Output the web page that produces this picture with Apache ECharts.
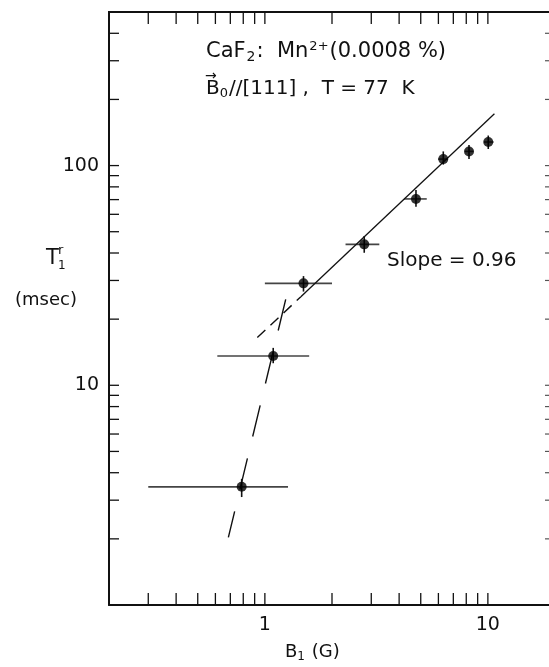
<!DOCTYPE html>
<html>
<head>
<meta charset="utf-8">
<script src="https://cdn.jsdelivr.net/npm/echarts@6/dist/echarts.min.js"></script>
<style>
html,body{margin:0;padding:0;background:#fff;overflow:hidden;}
#chart{width:549px;height:667px;}
</style>
</head>
<body>
<div id="chart"></div>
<script>
// ---- axis ranges and ticks ----
const X_MIN = 0.2, X_MAX = 20;
const Y_MIN = 1, Y_MAX = 500;
const xLabelValues = [1, 10];
const yLabelValues = [10, 100];
const xTickValues = [0.3, 0.4, 0.5, 0.6, 0.7, 0.8, 0.9, 1, 2, 3, 4, 5, 6, 7, 8, 9, 10];
const yTickValues = [2, 3, 4, 5, 6, 7, 8, 9, 10, 20, 30, 40, 50, 60, 70, 80, 90, 100, 200, 300, 400];

// ---- measured points: B1 (G) vs T1^r (msec) ----
const B1      = [0.787, 1.09, 1.49, 2.79, 4.76, 6.31, 8.23, 10.04];
const T1      = [3.45, 13.6, 29.1, 43.8, 70.5, 107, 116, 128];
const B1Low   = [0.30, 0.612, 1.0, 2.30, 4.21, 5.98, 7.89, 9.60];
const B1High  = [1.27, 1.58, 2.0, 3.26, 5.32, 6.63, 8.61, 10.6];
const T1Low   = [3.1, 12.6, 26.7, 40.1, 65.0, 101, 107, 119];
const T1High  = [3.75, 14.8, 31.4, 47.8, 77.4, 116, 124, 137];

// ---- drawn guide lines ----
const fitSolid    = [[1.45, 25.3], [10.7, 172]];
const fitDashed   = [[0.925, 16.5], [1.45, 25.3]];
const steepDashed = [[1.24, 24.6], [0.686, 2.03]];

const FONT = 'DejaVu Sans';
const INK = '#111';

function near(v, list) {
  return list.some(t => Math.abs(Math.log10(v) - Math.log10(t)) < 1e-6);
}

const pointData = B1.map((x, i) => [x, T1[i]]);
const errData = B1.map((x, i) => [x, T1[i], B1Low[i], B1High[i], T1Low[i], T1High[i]]);

const chart = echarts.init(document.getElementById('chart'), null, {renderer: 'canvas'});

const axisLineStyle = {show: true, onZero: false, lineStyle: {color: INK, width: 2}};

const option = {
  backgroundColor: '#fff',
  animation: false,
  grid: {left: 109, right: -6, top: 12, bottom: 62, containLabel: false, outerBoundsMode: 'none', show: false},
  xAxis: [
    {
      type: 'log', logBase: 10, min: X_MIN, max: X_MAX, position: 'bottom',
      axisLine: axisLineStyle, axisTick: {show: false}, splitLine: {show: false}, minorTick: {show: false},
      axisLabel: {
        show: true, margin: 11, color: INK, fontSize: 19, fontFamily: FONT,
        showMinLabel: true, showMaxLabel: true, hideOverlap: false,
        formatter: v => near(v, xLabelValues) ? String(Math.round(v)) : ''
      }
    }
  ],
  yAxis: [
    {
      type: 'log', logBase: 10, min: Y_MIN, max: Y_MAX, position: 'left',
      axisLine: axisLineStyle, axisTick: {show: false}, splitLine: {show: false}, minorTick: {show: false},
      axisLabel: {
        show: true, margin: 10, color: INK, fontSize: 19, fontFamily: FONT,
        showMinLabel: true, showMaxLabel: true, hideOverlap: false,
        formatter: v => near(v, yLabelValues) ? String(Math.round(v)) : ''
      }
    }
  ],
  series: [
    {
      // top frame line
      type: 'custom', silent: true, clip: false, z: 3,
      data: [[X_MIN, Y_MAX]],
      encode: {x: 0, y: 1},
      renderItem: function (params, api) {
        const a = api.coord([X_MIN, Y_MAX]);
        const b = api.coord([X_MAX, Y_MAX]);
        return {type: 'line', shape: {x1: a[0] - 1, y1: a[1], x2: b[0], y2: b[1]}, style: {stroke: INK, lineWidth: 2}};
      }
    },
    {
      // x tick marks on bottom and top frame
      type: 'custom', silent: true, clip: false, z: 3,
      data: xTickValues.map(v => [v, Y_MIN]),
      encode: {x: 0, y: 1},
      renderItem: function (params, api) {
        const v = api.value(0);
        const b = api.coord([v, Y_MIN]);
        const t = api.coord([v, Y_MAX]);
        const st = {stroke: INK, lineWidth: 1.3};
        return {type: 'group', children: [
          {type: 'line', shape: {x1: b[0], y1: b[1], x2: b[0], y2: b[1] - 12}, style: st},
          {type: 'line', shape: {x1: t[0], y1: t[1], x2: t[0], y2: t[1] + 12}, style: st}
        ]};
      }
    },
    {
      // y tick marks on left and right frame
      type: 'custom', silent: true, clip: false, z: 3,
      data: yTickValues.map(v => [X_MIN, v]),
      encode: {x: 0, y: 1},
      renderItem: function (params, api) {
        const v = api.value(1);
        const l = api.coord([X_MIN, v]);
        const r = api.coord([X_MAX, v]);
        return {type: 'group', children: [
          {type: 'line', shape: {x1: l[0], y1: l[1], x2: l[0] + 10, y2: l[1]}, style: {stroke: INK, lineWidth: 1.3}},
          {type: 'line', shape: {x1: r[0], y1: r[1], x2: r[0] - 10, y2: r[1]}, style: {stroke: '#555', lineWidth: 1.2}}
        ]};
      }
    },
    {
      // error bars
      type: 'custom', silent: true, clip: false, z: 4,
      data: errData,
      encode: {x: 0, y: 1},
      renderItem: function (params, api) {
        const x = api.value(0), y = api.value(1);
        const h0 = api.coord([api.value(2), y]);
        const h1 = api.coord([api.value(3), y]);
        const v0 = api.coord([x, api.value(4)]);
        const v1 = api.coord([x, api.value(5)]);
        return {type: 'group', children: [
          {type: 'line', shape: {x1: h0[0], y1: h0[1], x2: h1[0], y2: h1[1]}, style: {stroke: '#444', lineWidth: 1.6}},
          {type: 'line', shape: {x1: v0[0], y1: v0[1], x2: v1[0], y2: v1[1]}, style: {stroke: INK, lineWidth: 1.6}}
        ]};
      }
    },
    {
      type: 'line', data: fitSolid, symbol: 'none', silent: true, z: 5,
      lineStyle: {color: INK, width: 1.3, type: 'solid'}
    },
    {
      type: 'line', data: fitDashed, symbol: 'none', silent: true, z: 5,
      lineStyle: {color: INK, width: 1.4, type: [11, 7]}
    },
    {
      type: 'line', data: steepDashed, symbol: 'none', silent: true, z: 5,
      lineStyle: {color: INK, width: 1.4, type: [32, 22.5]}
    },
    {
      type: 'scatter', data: pointData, symbol: 'circle', symbolSize: 10, silent: true, z: 6,
      itemStyle: {color: '#000'}
    }
  ],
  graphic: [
    {
      type: 'text', x: 206, y: 52, z: 10,
      style: {
        text: '{n|CaF}{sub|2}{n|:  Mn}{sup|2+}{n|(0.0008 %)}',
        align: 'left', verticalAlign: 'middle',
        rich: {
          n: {fontSize: 21, fontFamily: FONT, fill: INK},
          sub: {fontSize: 14, fontFamily: FONT, fill: INK, padding: [10, 1, 0, 1]},
          sup: {fontSize: 13, fontFamily: FONT, fill: INK, padding: [0, 1, 10, 1]}
        }
      }
    },
    {
      type: 'text', x: 206, y: 89, z: 10,
      style: {
        text: '{n|B}{sub|0}{n|//[111] ,  T = 77  K}',
        align: 'left', verticalAlign: 'middle',
        rich: {
          n: {fontSize: 20, fontFamily: FONT, fill: INK},
          sub: {fontSize: 13, fontFamily: FONT, fill: INK, padding: [10, 1, 0, 0]}
        }
      }
    },
    {
      type: 'text', x: 205, y: 76, z: 10,
      style: {text: '→', font: '14px ' + FONT, fill: INK, align: 'left', verticalAlign: 'middle'}
    },
    {
      type: 'text', x: 387, y: 261, z: 10,
      style: {text: 'Slope = 0.96', font: '20px ' + FONT, fill: INK, align: 'left', verticalAlign: 'middle'}
    },
    {
      type: 'text', x: 46, y: 259, z: 10,
      style: {text: 'T', font: '21px ' + FONT, fill: INK, align: 'left', verticalAlign: 'middle'}
    },
    {
      type: 'text', x: 58, y: 251, z: 10,
      style: {text: 'r', font: '13px ' + FONT, fill: INK, align: 'left', verticalAlign: 'middle'}
    },
    {
      type: 'text', x: 58, y: 266, z: 10,
      style: {text: '1', font: '12px ' + FONT, fill: INK, align: 'left', verticalAlign: 'middle'}
    },
    {
      type: 'text', x: 15, y: 300, z: 10,
      style: {text: '(msec)', font: '18px ' + FONT, fill: INK, align: 'left', verticalAlign: 'middle'}
    },
    {
      type: 'text', x: 285, y: 652, z: 10,
      style: {
        text: '{n|B}{sub|1}{n| (G)}',
        align: 'left', verticalAlign: 'middle',
        rich: {
          n: {fontSize: 18, fontFamily: FONT, fill: INK},
          sub: {fontSize: 12, fontFamily: FONT, fill: INK, padding: [9, 1, 0, 0]}
        }
      }
    }
  ]
};

chart.setOption(option);
</script>
</body>
</html>
